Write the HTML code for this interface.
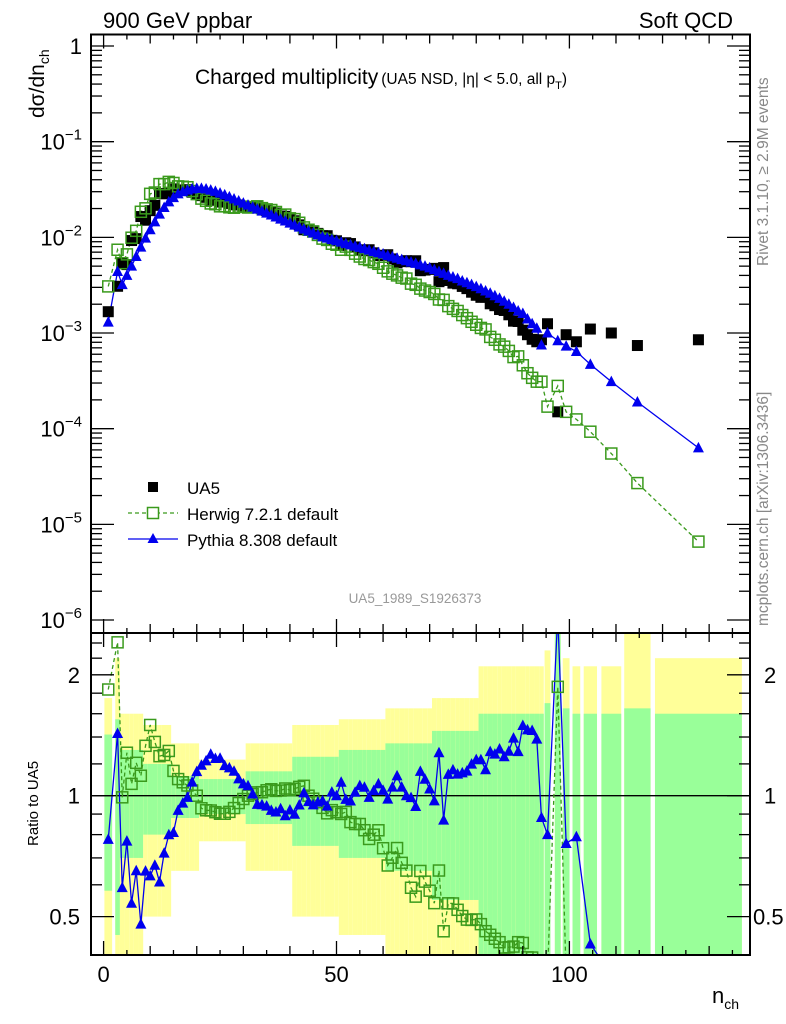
<!DOCTYPE html>
<html><head><meta charset="utf-8"><title>Charged multiplicity</title>
<style>
html,body{margin:0;padding:0;background:#fff;overflow:hidden;width:786px;height:1024px;}
svg{display:block;font-family:"Liberation Sans",Arial,sans-serif;}
</style></head>
<body>
<svg id="chart" width="786" height="1024" viewBox="0 0 786 1024" xmlns="http://www.w3.org/2000/svg">
<defs>
<clipPath id="clipTop"><rect x="91" y="34.5" width="659" height="598.5"/></clipPath>
<clipPath id="clipRat"><rect x="91" y="633" width="659" height="322"/></clipPath>
</defs>
<g id="bands" clip-path="url(#clipRat)"></g>
<line x1="91" y1="795.7" x2="750" y2="795.7" stroke="#000" stroke-width="1.3"/>
<g id="ratioSeries" clip-path="url(#clipRat)"></g>
<g id="topSeries" clip-path="url(#clipTop)"></g>
<g id="axes"></g>
<rect x="91" y="34.5" width="659" height="598.5" fill="none" stroke="#000" stroke-width="2"/>
<rect x="91" y="633" width="659" height="322" fill="none" stroke="#000" stroke-width="2"/>

<text x="103" y="28" font-size="22">900 GeV ppbar</text>
<text x="733" y="28" font-size="22" text-anchor="end">Soft QCD</text>
<text x="195" y="84" font-size="21">Charged multiplicity<tspan font-size="15.5" dx="3">(UA5 NSD, |η| &lt; 5.0, all p</tspan><tspan font-size="11" dy="5">T</tspan><tspan font-size="15.5" dy="-5">)</tspan></text>
<text transform="translate(44,118) rotate(-90)" font-size="21">dσ/dn<tspan font-size="14" dy="5">ch</tspan></text>
<text transform="translate(38,846) rotate(-90)" font-size="15">Ratio to UA5</text>
<text x="712" y="1003" font-size="22">n<tspan font-size="14" dy="6">ch</tspan></text>
<text transform="translate(768,266) rotate(-90)" font-size="15.5" fill="#888">Rivet 3.1.10, ≥ 2.9M events</text>
<text transform="translate(768,626) rotate(-90)" font-size="15.5" fill="#888">mcplots.cern.ch [arXiv:1306.3436]</text>
<text x="415" y="603" font-size="13.5" fill="#999" text-anchor="middle">UA5_1989_S1926373</text>

<g>
<rect x="148" y="482" width="10" height="10" fill="#000"/>
<text x="187" y="494" font-size="17">UA5</text>
<line x1="128" y1="513" x2="178" y2="513" stroke="#3a9a1c" stroke-width="1.3" stroke-dasharray="4,3"/>
<rect x="147.5" y="507.5" width="11" height="11" fill="#fff" stroke="#3a9a1c" stroke-width="1.5"/>
<text x="187" y="520" font-size="17">Herwig 7.2.1 default</text>
<line x1="128" y1="539" x2="178" y2="539" stroke="#0000ee" stroke-width="1.3"/>
<polygon points="153,533 158.5,543 147.5,543" fill="#0000ee"/>
<text x="187" y="546" font-size="17">Pythia 8.308 default</text>
</g>
</svg>
<script>
// ---- data ----
const nVals = [1,3,4,5,6,7,8,9,10,11,12,13,14,15,16,17,18,19,20,21,22,23,24,25,26,27,28,29,30,31,32,33,34,35,36,37,38,39,40,41,42,43,44,45,46,47,48,49,50,51,52,53,54,55,56,57,58,59,60,61,62,63,64,65,66,67,68,69,70,71,72,73,74,75,76,77,78,79,80,81,82,83,84,85,86,87,88,89,90,91,92,93,94,95.3,97.5,99.3,101.5,104.5,109,114.6,127.7];
const binHalf = [1,0.5,0.5,0.5,0.5,0.5,0.5,0.5,0.5,0.5,0.5,0.5,0.5,0.5,0.5,0.5,0.5,0.5,0.5,0.5,0.5,0.5,0.5,0.5,0.5,0.5,0.5,0.5,0.5,0.5,0.5,0.5,0.5,0.5,0.5,0.5,0.5,0.5,0.5,0.5,0.5,0.5,0.5,0.5,0.5,0.5,0.5,0.5,0.5,0.5,0.5,0.5,0.5,0.5,0.5,0.5,0.5,0.5,0.5,0.5,0.5,0.5,0.5,0.5,0.5,0.5,0.5,0.5,0.5,0.5,0.5,0.5,0.5,0.5,0.5,0.5,0.5,0.5,0.5,0.5,0.5,0.5,0.5,0.5,0.5,0.5,0.5,0.5,0.5,0.5,0.5,0.5,0.5,0.8,0.8,0.9,1,1.6,2.3,3,9.5];
const ua5 = [1.67e-3,3.08e-3,5.42e-3,5.19e-3,9.26e-3,9.69e-3,1.65e-2,1.51e-2,1.90e-2,2.16e-2,2.87e-2,2.85e-2,2.94e-2,3.21e-2,3.10e-2,3.13e-2,3.15e-2,2.96e-2,2.83e-2,2.73e-2,2.62e-2,2.46e-2,2.44e-2,2.34e-2,2.34e-2,2.26e-2,2.19e-2,2.18e-2,2.13e-2,2.05e-2,2.05e-2,2.07e-2,1.98e-2,1.90e-2,1.86e-2,1.79e-2,1.67e-2,1.66e-2,1.53e-2,1.49e-2,1.35e-2,1.20e-2,1.20e-2,1.17e-2,1.10e-2,1.04e-2,1.04e-2,9.31e-3,9.2e-3,8.24e-3,8.78e-3,8.61e-3,7.94e-3,7.41e-3,7.24e-3,7.42e-3,6.89e-3,6.45e-3,6.50e-3,6.58e-3,5.95e-3,5.40e-3,5.57e-3,5.70e-3,5.56e-3,5.69e-3,4.48e-3,4.55e-3,4.62e-3,4.74e-3,3.44e-3,4.83e-3,3.54e-3,3.32e-3,3.27e-3,3.07e-3,2.91e-3,2.67e-3,2.48e-3,2.36e-3,2.37e-3,2.02e-3,1.93e-3,1.76e-3,1.72e-3,1.55e-3,1.33e-3,1.32e-3,1.07e-3,9.6e-4,8.6e-4,8.1e-4,8.5e-4,1.25e-3,1.5e-4,9.6e-4,8.1e-4,1.1e-3,1.0e-3,7.4e-4,8.5e-4];
const herwig = [3.07e-3,7.42e-3,5.37e-3,6.64e-3,9.91e-3,1.17e-2,1.85e-2,2.01e-2,2.85e-2,2.94e-2,3.6e-2,3.6e-2,3.8e-2,3.7e-2,3.41e-2,3.38e-2,3.34e-2,3.05e-2,2.83e-2,2.54e-2,2.41e-2,2.26e-2,2.22e-2,2.11e-2,2.11e-2,2.06e-2,2.04e-2,2.09e-2,2.09e-2,2.05e-2,2.07e-2,2.11e-2,2.02e-2,1.96e-2,1.93e-2,1.84e-2,1.72e-2,1.73e-2,1.58e-2,1.55e-2,1.42e-2,1.27e-2,1.20e-2,1.15e-2,1.06e-2,9.7e-3,9.4e-3,8.57e-3,8.37e-3,7.42e-3,8.0e-3,7.4e-3,6.75e-3,6.3e-3,5.94e-3,5.79e-3,5.51e-3,5.29e-3,4.81e-3,4.41e-3,4.17e-3,4.0e-3,3.79e-3,3.71e-3,3.28e-3,3.19e-3,2.91e-3,2.78e-3,2.68e-3,2.56e-3,2.24e-3,2.22e-3,1.91e-3,1.79e-3,1.70e-3,1.54e-3,1.43e-3,1.31e-3,1.22e-3,1.13e-3,1.09e-3,9.1e-4,8.5e-4,7.6e-4,7.2e-4,6.5e-4,5.6e-4,5.7e-4,4.6e-4,3.8e-4,3.4e-4,3.1e-4,3.1e-4,1.7e-4,2.8e-4,1.5e-4,1.25e-4,9.3e-5,5.5e-5,2.7e-5,6.6e-6];
const pythia = [1.3e-3,4.4e-3,3.2e-3,4.0e-3,5.0e-3,6.3e-3,7.9e-3,9.8e-3,1.2e-2,1.45e-2,1.75e-2,2.05e-2,2.35e-2,2.6e-2,2.85e-2,3.0e-2,3.12e-2,3.2e-2,3.25e-2,3.25e-2,3.2e-2,3.12e-2,3.02e-2,2.9e-2,2.78e-2,2.65e-2,2.52e-2,2.4e-2,2.28e-2,2.17e-2,2.07e-2,1.97e-2,1.88e-2,1.79e-2,1.71e-2,1.63e-2,1.55e-2,1.48e-2,1.41e-2,1.34e-2,1.28e-2,1.22e-2,1.16e-2,1.11e-2,1.06e-2,1.01e-2,9.8e-3,9.5e-3,9.2e-3,8.9e-3,8.6e-3,8.35e-3,8.1e-3,7.85e-3,7.6e-3,7.35e-3,7.1e-3,6.9e-3,6.7e-3,6.45e-3,6.25e-3,6.05e-3,5.85e-3,5.7e-3,5.5e-3,5.35e-3,5.15e-3,5.0e-3,4.8e-3,4.6e-3,4.4e-3,4.2e-3,4.0e-3,3.85e-3,3.7e-3,3.5e-3,3.35e-3,3.2e-3,3.05e-3,2.9e-3,2.75e-3,2.6e-3,2.45e-3,2.3e-3,2.15e-3,2.0e-3,1.85e-3,1.7e-3,1.6e-3,1.4e-3,1.25e-3,1.12e-3,7.5e-4,1.0e-3,8.3e-4,7.3e-4,6.4e-4,4.7e-4,3.1e-4,1.9e-4,6.3e-5];
const errGreen = [0.42,0.55,0.3,0.3,0.3,0.3,0.3,0.2,0.2,0.2,0.2,0.2,0.2,0.12,0.12,0.12,0.12,0.12,0.12,0.1,0.1,0.1,0.1,0.1,0.1,0.1,0.1,0.1,0.1,0.15,0.15,0.15,0.15,0.15,0.15,0.15,0.15,0.15,0.15,0.25,0.25,0.25,0.25,0.25,0.25,0.25,0.25,0.25,0.25,0.3,0.3,0.3,0.3,0.3,0.3,0.3,0.3,0.3,0.3,0.35,0.35,0.35,0.35,0.35,0.35,0.35,0.35,0.35,0.35,0.45,0.45,0.45,0.45,0.45,0.45,0.45,0.45,0.45,0.45,0.6,0.6,0.6,0.6,0.6,0.6,0.6,0.6,0.6,0.6,0.6,0.6,0.6,0.6,0.7,3,0.65,0.6,0.6,0.6,0.65,0.6];
const errYellow = [0.75,1.2,0.6,0.6,0.6,0.6,0.6,0.5,0.5,0.5,0.5,0.5,0.5,0.35,0.35,0.35,0.35,0.35,0.35,0.23,0.23,0.23,0.23,0.23,0.23,0.23,0.23,0.23,0.23,0.35,0.35,0.35,0.35,0.35,0.35,0.35,0.35,0.35,0.35,0.5,0.5,0.5,0.5,0.5,0.5,0.5,0.5,0.5,0.5,0.55,0.55,0.55,0.55,0.55,0.55,0.55,0.55,0.55,0.55,0.65,0.65,0.65,0.65,0.65,0.65,0.65,0.65,0.65,0.65,0.75,0.75,0.75,0.75,0.75,0.75,0.75,0.75,0.75,0.75,1.1,1.1,1.1,1.1,1.1,1.1,1.1,1.1,1.1,1.1,1.1,1.1,1.1,1.1,1.3,3,1.2,1.1,1.1,1.1,1.6,1.2];
const xTickLabels = ["0","50","100"];
const xTickVals = [0,50,100];
const ratioTickVals = [0.5,1,2];
const ratioTickLabels = ["0.5","1","2"];

// ---- axes ----
const SVGNS = "http://www.w3.org/2000/svg";
function xs(n){ return 103.6 + 4.658*n; }
function yTop(v){ return 46 - 95.67*Math.log10(v); }
function yRat(r){ return 795.7 - 120.9*Math.log2(r); }
function yRatClamp(r){ return Math.max(615, Math.min(975, yRat(r))); }
const X0 = 91, X1 = 750, TOP0 = 34.5, TOP1 = 633, RB = 955;

function mk(tag, attrs, parent){
  const e = document.createElementNS(SVGNS, tag);
  for (const k in attrs) e.setAttribute(k, attrs[k]);
  parent.appendChild(e);
  return e;
}
const axes = document.getElementById('axes');
const bands = document.getElementById('bands');
const topG = document.getElementById('topSeries');
const ratG = document.getElementById('ratioSeries');

// bands
for (let i = 0; i < nVals.length; i++) {
  const gap = binHalf[i] > 0.6 ? 0.8 : 0;
  const xa = xs(nVals[i]-binHalf[i]) + gap, xb = Math.min(xs(nVals[i]+binHalf[i]) - gap, X1);
  const eY = errYellow[i], eG = errGreen[i];
  const yT = Math.max(yRat(1+eY), TOP1), yB = (1-eY) > 0.4 ? yRat(1-eY) : RB;
  const r1 = mk('rect', {x:xa, y:yT, width:Math.max(xb-xa,0.5), height:yB-yT, fill:'#ffff99'}, bands);
  
  
  const gT = Math.max(yRat(1+eG), TOP1), gB = (1-eG) > 0.4 ? yRat(1-eG) : RB;
  const r2 = mk('rect', {x:xa, y:gT, width:Math.max(xb-xa,0.5), height:gB-gT, fill:'#99ff99'}, bands);
  
  
}

// x ticks
for (let v = 0; v <= 138; v += 5) {
  const len = v % 50 === 0 ? 14 : (v % 10 === 0 ? 9 : 5);
  const x = xs(v);
  [[TOP0, 1], [TOP1, -1], [TOP1, 1], [RB, -1]].forEach(([y, d]) => {
    const t = mk('line', {x1:x, x2:x, y1:y, y2:y + d*len, stroke:'#000', 'stroke-width':1.3}, axes);
    
    
  });
}
xTickVals.forEach((v, i) => {
  const t = mk('text', {x:xs(v), y:982, 'font-size':22, 'text-anchor':'middle'}, axes);
  t.textContent = xTickLabels[i];
  
  
});

// top y ticks (log)
for (let d = 0; d >= -6; d--) {
  for (let m = 1; m <= 9; m++) {
    const v = m * Math.pow(10, d);
    const y = yTop(v);
    if (y < TOP0 || y > TOP1) continue;
    const len = m === 1 ? 23 : 11;
    [[X0, 1], [X1, -1]].forEach(([x, s]) => {
      const t = mk('line', {x1:x, x2:x + s*len, y1:y, y2:y, stroke:'#000', 'stroke-width':1.3}, axes);
      
      
    });
  }
  const lab = mk('text', {x:82, y:yTop(Math.pow(10, d)) + 8, 'font-size':22, 'text-anchor':'end'}, axes);
  
  
  if (d === 0) { lab.textContent = '1'; }
  else {
    lab.textContent = '10';
    const sp = mk('tspan', {dy:-10, 'font-size':15}, lab);
    sp.textContent = '−' + (-d);
  }
}

// ratio y ticks
const ratioMinor = [0.4,0.6,0.7,0.8,0.9,1.2,1.4,1.6,1.8,2.2,2.4];
ratioMinor.concat(ratioTickVals).forEach(v => {
  const y = yRat(v);
  if (y < TOP1 || y > RB) return;
  const len = ratioTickVals.includes(v) ? 23 : 11;
  [[X0, 1], [X1, -1]].forEach(([x, s]) => {
    const t = mk('line', {x1:x, x2:x + s*len, y1:y, y2:y, stroke:'#000', 'stroke-width':1.3}, axes);
    
    
  });
});
ratioTickVals.forEach((v, i) => {
  const l = mk('text', {x:80, y:yRat(v) + 8, 'font-size':22, 'text-anchor':'end'}, axes);
  l.textContent = ratioTickLabels[i];
  
  
  const r = mk('text', {x:v < 1 ? 753 : 764, y:yRat(v) + 8, 'font-size':22, 'text-anchor':'start'}, axes);
  r.textContent = ratioTickLabels[i];
  
  
});

// ---- series ----
function tri(parent, x, y, name){
  const p = mk('polygon', {points:`${x},${y-6} ${x+5.5},${y+4.5} ${x-5.5},${y+4.5}`, fill:'#0000ee'}, parent);
  
  
}
function sq(parent, x, y, name){
  const p = mk('rect', {x:x-5.5, y:y-5.5, width:11, height:11, fill:'none', stroke:'#3a9a1c', 'stroke-width':1.5}, parent);
  
  
}

// top panel
const hPts = nVals.map((n, i) => xs(n) + ',' + yTop(herwig[i])).join(' ');
const hl = mk('polyline', {points:hPts, fill:'none', stroke:'#3a9a1c', 'stroke-width':1.3, 'stroke-dasharray':'4,3'}, topG);


const pPts = nVals.map((n, i) => xs(n) + ',' + yTop(pythia[i])).join(' ');
const pl = mk('polyline', {points:pPts, fill:'none', stroke:'#0000ee', 'stroke-width':1.3}, topG);


nVals.forEach((n, i) => {
  const r = mk('rect', {x:xs(n)-5.5, y:yTop(ua5[i])-5.5, width:11, height:11, fill:'#000'}, topG);
  
  
});
nVals.forEach((n, i) => sq(topG, xs(n), yTop(herwig[i]), 'herwig-point'));
nVals.forEach((n, i) => tri(topG, xs(n), yTop(pythia[i]), 'pythia-point'));

// ratio panel
const hr = nVals.map((n, i) => xs(n) + ',' + yRatClamp(herwig[i]/ua5[i])).join(' ');
const hrl = mk('polyline', {points:hr, fill:'none', stroke:'#3a9a1c', 'stroke-width':1.3, 'stroke-dasharray':'4,3'}, ratG);


const pr = nVals.map((n, i) => xs(n) + ',' + yRatClamp(pythia[i]/ua5[i])).join(' ');
const prl = mk('polyline', {points:pr, fill:'none', stroke:'#0000ee', 'stroke-width':1.3}, ratG);


nVals.forEach((n, i) => {
  const y = yRat(herwig[i]/ua5[i]);
  if (y > TOP1 - 6 && y < RB + 6) sq(ratG, xs(n), y, 'herwig-ratio-point');
});
nVals.forEach((n, i) => {
  const y = yRat(pythia[i]/ua5[i]);
  if (y > TOP1 - 6 && y < RB + 6) tri(ratG, xs(n), y, 'pythia-ratio-point');
});
</script>
</body></html>
